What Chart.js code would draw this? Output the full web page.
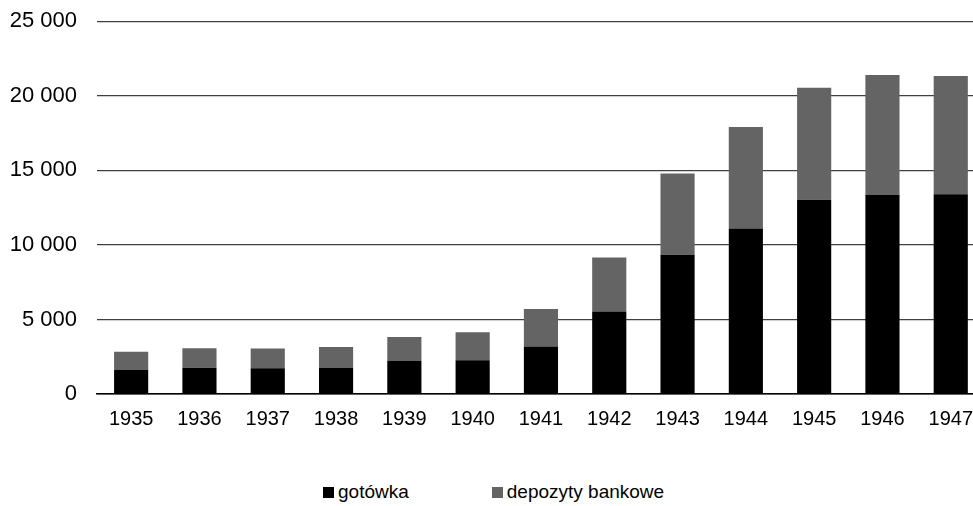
<!DOCTYPE html>
<html lang="pl">
<head>
<meta charset="utf-8">
<script src="https://cdn.jsdelivr.net/npm/chart.js@4/dist/chart.umd.min.js"></script>
<style>
    html, body { margin: 0; padding: 0; background: #fff; overflow: hidden; }
    body { width: 973px; height: 506px; position: relative; font-family: "Liberation Sans", Arial, sans-serif; }
    #wrap { position: absolute; left: 0; top: -12px; width: 986px; height: 452px; }
    #legenda { position: absolute; left: 323px; top: 481px; display: flex; align-items: center; font-size: 19px; color: #000; }
    #legenda .item { display: flex; align-items: center; }
    #legenda .box { width: 11px; height: 11px; margin-right: 4px; }
</style>
</head>
<body>
<div id="wrap"><canvas id="Grafico"></canvas></div>
<div id="legenda"></div>
<script>
const lata = ['1935', '1936', '1937', '1938', '1939', '1940', '1941', '1942', '1943', '1944', '1945', '1946', '1947'];
const gotowka = [1610, 1760, 1720, 1740, 2210, 2260, 3190, 5540, 9340, 11100, 13020, 13340, 13400];
const depozyty = [1230, 1300, 1330, 1410, 1610, 1880, 2510, 3620, 5450, 6800, 7510, 8060, 7920];
const nazwy = ['gotówka', 'depozyty bankowe'];
const kolory = ['#000000', '#646464'];

// "25 000" - spacja jako separator tysięcy, także dla 5 000
function formatuj(v) {
    return String(v).replace(/\B(?=(\d{3})+(?!\d))/g, ' ');
}

const ctx = document.getElementById('Grafico');

new Chart(ctx, {
    type: 'bar',
    data: {
        labels: lata,
        datasets: [{
            label: nazwy[0],
            data: gotowka,
            backgroundColor: kolory[0],
            categoryPercentage: 1,
            barPercentage: 0.5
        }, {
            label: nazwy[1],
            data: depozyty,
            backgroundColor: kolory[1],
            categoryPercentage: 1,
            barPercentage: 0.5
        }]
    },
    options: {
        responsive: true,
        maintainAspectRatio: false,
        animation: false,
        layout: { padding: { top: 10, left: 0, right: 0, bottom: 0 } },
        plugins: {
            legend: { display: false },
            tooltip: { enabled: false }
        },
        scales: {
            x: {
                stacked: true,
                grid: { display: false, drawTicks: false },
                border: { display: true, color: '#000', width: 1.5 },
                ticks: {
                    color: '#000',
                    padding: 13,
                    maxRotation: 0,
                    font: { family: '"Liberation Sans", Arial, sans-serif', size: 20 }
                },
                afterFit: (scale) => { scale.height = 46; }
            },
            y: {
                stacked: true,
                min: 0,
                max: 25000,
                grid: {
                    drawTicks: false,
                    color: (c) => c.tick && c.tick.value === 0 ? '#000' : '#404040',
                    lineWidth: 1.2
                },
                border: { display: false },
                ticks: {
                    stepSize: 5000,
                    color: '#000',
                    padding: 20,
                    font: { family: '"Liberation Sans", Arial, sans-serif', size: 22 },
                    callback: (v) => formatuj(v)
                },
                afterFit: (scale) => { scale.width = 97; }
            }
        }
    }
});

// legenda pod wykresem
const legenda = document.getElementById('legenda');
for (let i = 0; i < nazwy.length; i++) {
    const item = document.createElement('span');
    item.className = 'item';
    if (i > 0) item.style.marginLeft = '83px';
    const box = document.createElement('span');
    box.className = 'box';
    box.style.background = kolory[i];
    const txt = document.createElement('span');
    txt.textContent = nazwy[i];
    item.appendChild(box);
    item.appendChild(txt);
    legenda.appendChild(item);
}
</script>
</body>
</html>
